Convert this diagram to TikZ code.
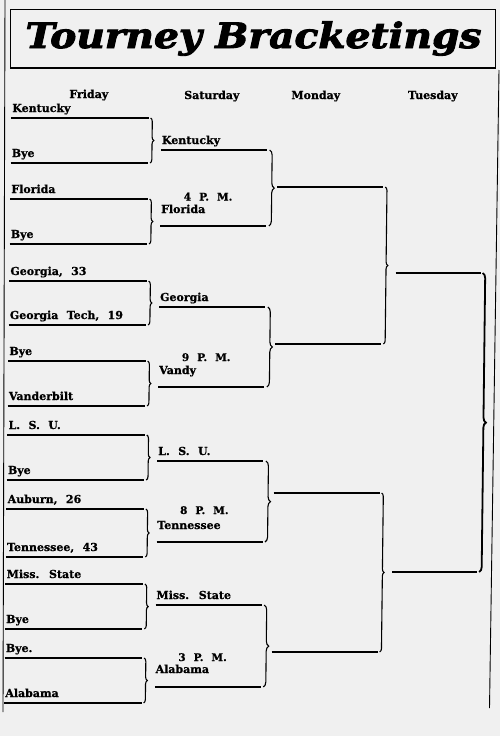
\documentclass[tikz,border=0pt]{standalone}
\usepackage{fontspec}
\setmainfont{DejaVu Serif}
\newfontfamily\bktfont[WordSpace=2.2, BoldFeatures={FakeBold=0.9}]{DejaVu Serif}
\newfontfamily\ttlfont[BoldItalicFeatures={FakeBold=2.5}]{DejaVu Serif}
\usepackage{tikz}
\usetikzlibrary{positioning}
\usetikzlibrary{decorations.pathreplacing}

\tikzset{
  team/.style={font=\bktfont\bfseries\fontsize{11}{13}\selectfont, anchor=base west, inner sep=0pt},
  hour/.style={font=\bktfont\bfseries\fontsize{10.5}{12}\selectfont, anchor=base, inner sep=0pt},
  day/.style={font=\bktfont\bfseries\fontsize{11}{13}\selectfont, anchor=base, inner sep=0pt},
  rule/.style={line width=1.5pt},
  bkt/.style={decorate, decoration={brace, amplitude=#1}, line width=1.1pt},
}

\begin{document}
\begin{tikzpicture}[x=1pt,y=-1pt]
\useasboundingbox[fill=black!6] (0,0) rectangle (500,736);

% heading and column rules
\draw[line width=0.9pt] (10,9) rectangle (495,68);
\draw[line width=1.6pt] (10,68) -- (495,68);
\node[font=\ttlfont\bfseries\itshape\fontsize{35}{38}\selectfont, anchor=base, inner sep=0pt] (title) at (253.5,48) {\scalebox{1.12}[1]{Tourney Bracketings}};
\draw[line width=0.9pt] (5,0) coordinate (ltop) -- (3,712) coordinate (lbot);
\draw[line width=0.9pt] (499,70) coordinate (rtop) -- (489.5,708) coordinate (rbot);

\begin{scope}[xslant=0.012]
\node[day] (fri) at (90,98) {Friday};
\node[day] (sat) at (213,99) {Saturday};
\node[day] (mon) at (317,99) {Monday};
\node[day] (tue) at (434,99) {Tuesday};

% Friday
\draw[rule] (12.5,118) coordinate (f1w) -- (150,118) coordinate (f1e);
\draw[rule] (12.5,163) coordinate (f2w) -- (150,163) coordinate (f2e);
\draw[rule] (12.5,199) coordinate (f3w) -- (150,199) coordinate (f3e);
\draw[rule] (12.5,244) coordinate (f4w) -- (150,244) coordinate (f4e);
\draw[rule] (12.5,281) coordinate (f5w) -- (150,281) coordinate (f5e);
\draw[rule] (12.5,325) coordinate (f6w) -- (150,325) coordinate (f6e);
\draw[rule] (12.5,361) coordinate (f7w) -- (150,361) coordinate (f7e);
\draw[rule] (12.5,406) coordinate (f8w) -- (150,406) coordinate (f8e);
\draw[rule] (12.5,435) coordinate (f9w) -- (150,435) coordinate (f9e);
\draw[rule] (12.5,480) coordinate (f10w) -- (150,480) coordinate (f10e);
\draw[rule] (12.5,509) coordinate (f11w) -- (150,509) coordinate (f11e);
\draw[rule] (12.5,557) coordinate (f12w) -- (150,557) coordinate (f12e);
\draw[rule] (12.5,584) coordinate (f13w) -- (150,584) coordinate (f13e);
\draw[rule] (12.5,629) coordinate (f14w) -- (150,629) coordinate (f14e);
\draw[rule] (12.5,658) coordinate (f15w) -- (150,658) coordinate (f15e);
\draw[rule] (12.5,703) coordinate (f16w) -- (150,703) coordinate (f16e);

\node[team] (f1) at (13.5,112) {Kentucky};
\node[team] (f2) at (13.5,157) {Bye};
\node[team] (f3) at (13.5,193) {Florida};
\node[team] (f4) at (13.5,238) {Bye};
\node[team] (f5) at (13.5,275) {Georgia, 33};
\node[team] (f6) at (13.5,319) {Georgia Tech, 19};
\node[team] (f7) at (13.5,355) {Bye};
\node[team] (f8) at (13.5,400) {Vanderbilt};
\node[team] (f9) at (13.5,429) {L. S. U.};
\node[team] (f10) at (13.5,474) {Bye};
\node[team] (f11) at (13.5,503) {Auburn, 26};
\node[team] (f12) at (13.5,551) {Tennessee, 43};
\node[team] (f13) at (13.5,578) {Miss. State};
\node[team] (f14) at (13.5,623) {Bye};
\node[team] (f15) at (13.5,652) {Bye.};
\node[team] (f16) at (13.5,697) {Alabama};

\draw[bkt=3.5pt] ([xshift=2pt]f1e) -- ([xshift=2pt]f2e);
\draw[bkt=3.5pt] ([xshift=2pt]f3e) -- ([xshift=2pt]f4e);
\draw[bkt=3.5pt] ([xshift=2pt]f5e) -- ([xshift=2pt]f6e);
\draw[bkt=3.5pt] ([xshift=2pt]f7e) -- ([xshift=2pt]f8e);
\draw[bkt=3.5pt] ([xshift=2pt]f9e) -- ([xshift=2pt]f10e);
\draw[bkt=3.5pt] ([xshift=2pt]f11e) -- ([xshift=2pt]f12e);
\draw[bkt=3.5pt] ([xshift=2pt]f13e) -- ([xshift=2pt]f14e);
\draw[bkt=3.5pt] ([xshift=2pt]f15e) -- ([xshift=2pt]f16e);

% Saturday
\draw[rule] (163,150) coordinate (s1w) -- (269,150) coordinate (s1e);
\draw[rule] (163,226) coordinate (s2w) -- (269,226) coordinate (s2e);
\draw[rule] (163,307) coordinate (s3w) -- (269,307) coordinate (s3e);
\draw[rule] (163,387) coordinate (s4w) -- (269,387) coordinate (s4e);
\draw[rule] (163,461) coordinate (s5w) -- (269,461) coordinate (s5e);
\draw[rule] (163,542) coordinate (s6w) -- (269,542) coordinate (s6e);
\draw[rule] (163,605) coordinate (s7w) -- (269,605) coordinate (s7e);
\draw[rule] (163,687) coordinate (s8w) -- (269,687) coordinate (s8e);

\node[team] (s1) at (163.5,144) {Kentucky};
\node[hour] (h1) at (210.5,200.5) {4 P. M.};
\node[team] (s2) at (163.5,213) {Florida};
\node[team] (s3) at (163.5,301) {Georgia};
\node[hour] (h2) at (210.5,361) {9 P. M.};
\node[team] (s4) at (163.5,374) {Vandy};
\node[team] (s5) at (163.5,455) {L. S. U.};
\node[hour] (h3) at (210.5,514) {8 P. M.};
\node[team] (s6) at (163.5,529) {Tennessee};
\node[team] (s7) at (163.5,599) {Miss. State};
\node[hour] (h4) at (210.5,661) {3 P. M.};
\node[team] (s8) at (163.5,673) {Alabama};

\draw[bkt=5pt] ([xshift=2.5pt]s1e) -- ([xshift=2.5pt]s2e);
\draw[bkt=5pt] ([xshift=2.5pt]s3e) -- ([xshift=2.5pt]s4e);
\draw[bkt=5pt] ([xshift=2.5pt]s5e) -- ([xshift=2.5pt]s6e);
\draw[bkt=5pt] ([xshift=2.5pt]s7e) -- ([xshift=2.5pt]s8e);

% Monday
\draw[rule] (279.5,187) coordinate (m1w) -- (385.5,187) coordinate (m1e);
\draw[rule] (279.5,344) coordinate (m2w) -- (385.5,344) coordinate (m2e);
\draw[rule] (279.5,493) coordinate (m3w) -- (385.5,493) coordinate (m3e);
\draw[rule] (279.5,652) coordinate (m4w) -- (385.5,652) coordinate (m4e);

\draw[bkt=3.5pt] ([xshift=2pt]m1e) -- ([xshift=2pt]m2e);
\draw[bkt=3.5pt] ([xshift=2pt]m3e) -- ([xshift=2pt]m4e);

% Tuesday
\draw[rule] (399,273) coordinate (t1w) -- (484,273) coordinate (t1e);
\draw[rule] (399,572) coordinate (t2w) -- (484,572) coordinate (t2e);

\draw[bkt=5pt, line width=1.8pt] ([xshift=2pt]t1e) -- ([xshift=2pt]t2e);
\end{scope}
\end{tikzpicture}
\end{document}
